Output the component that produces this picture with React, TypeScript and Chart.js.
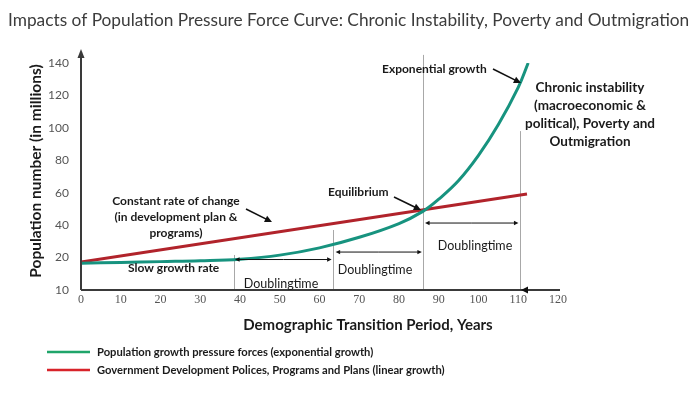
import React, { useEffect, useRef } from 'react';
import { Chart, registerables } from 'chart.js';
Chart.register(...registerables);

const titleText = 'Impacts of Population Pressure Force Curve: Chronic Instability, Poverty and Outmigration';
const xAxisTitle = 'Demographic Transition Period, Years';
const yAxisTitle = 'Population number (in millions)';
const xTickValues = [0, 10, 20, 30, 40, 50, 60, 70, 80, 90, 100, 110, 120];
const yTickValues = [0, 20, 40, 60, 80, 100, 120, 140];
const yTickLabels = ['10', '20', '40', '60', '80', '100', '120', '140'];

// Population growth pressure forces (exponential growth)
const greenX = [0, 10, 20, 30, 40, 50, 60, 70, 80, 86, 90, 95, 100, 105, 110, 112.5];
const greenY = [16.5, 17, 17.5, 18, 19, 21.5, 26, 32.5, 41, 48.5, 56, 67.5, 83, 102, 125, 140];
// Government Development Polices, Programs and Plans (linear growth)
const redX = [0, 112.2];
const redY = [17.3, 59.2];

// doubling-time markers
const markerX = [38.5, 63.5, 86, 110.5];
const markerTop = [21.6, 37, 145, 98];
const doublingStart = [38.5, 63.8, 86.3];
const doublingEnd = [63.3, 86, 110.3];
const doublingLevel = [18.8, 23.4, 41.3];
const doublingLabel = ['Doublingtime', 'Doublingtime', 'Doublingtime'];

const legendLabels = [
  'Population growth pressure forces (exponential growth)',
  'Government Development Polices, Programs and Plans (linear growth)',
];
const chronicLines = ['Chronic instability', '(macroeconomic &', 'political), Poverty and', 'Outmigration'];
const constantLines = ['Constant rate of change', '(in development plan &', 'programs)'];

const GREEN = '#17937f';
const RED = '#b1232b';
const LEG_GREEN = '#1fa56a';
const LEG_RED = '#d8232a';
const SANS = 'Lato, "Open Sans", sans-serif';

function arrow(ctx: CanvasRenderingContext2D, x1: number, y1: number, x2: number, y2: number, head: number, width: number) {
  const ang = Math.atan2(y2 - y1, x2 - x1);
  ctx.beginPath();
  ctx.lineWidth = width;
  ctx.moveTo(x1, y1);
  ctx.lineTo(x2 - Math.cos(ang) * head * 0.6, y2 - Math.sin(ang) * head * 0.6);
  ctx.stroke();
  ctx.beginPath();
  ctx.moveTo(x2, y2);
  ctx.lineTo(x2 - head * Math.cos(ang - 0.45), y2 - head * Math.sin(ang - 0.45));
  ctx.lineTo(x2 - head * Math.cos(ang + 0.45), y2 - head * Math.sin(ang + 0.45));
  ctx.closePath();
  ctx.fill();
}

const underlay = {
  id: 'underlay',
  beforeDatasetsDraw(chart: any) {
    const { ctx, scales } = chart;
    const xs = scales.x, ys = scales.y;
    ctx.save();
    ctx.strokeStyle = '#a8a8a8';
    ctx.lineWidth = 1;
    markerX.forEach((mx, i) => {
      const px = Math.round(xs.getPixelForValue(mx)) + 0.5;
      ctx.beginPath();
      ctx.moveTo(px, ys.getPixelForValue(markerTop[i]));
      ctx.lineTo(px, ys.getPixelForValue(0));
      ctx.stroke();
    });
    ctx.restore();
  },
  afterDatasetsDraw(chart: any) {
    const { ctx, scales, chartArea } = chart;
    const xs = scales.x, ys = scales.y;
    ctx.save();
    // axes
    ctx.strokeStyle = '#3a3a3a';
    ctx.fillStyle = '#3a3a3a';
    ctx.lineWidth = 2;
    ctx.beginPath();
    ctx.moveTo(chartArea.left, chartArea.bottom);
    ctx.lineTo(chartArea.right + 2, chartArea.bottom);
    ctx.stroke();
    ctx.beginPath();
    ctx.moveTo(chartArea.left, chartArea.bottom);
    ctx.lineTo(chartArea.left, 56);
    ctx.stroke();
    ctx.beginPath();
    ctx.moveTo(chartArea.left, 49);
    ctx.lineTo(chartArea.left - 3.5, 58);
    ctx.lineTo(chartArea.left + 3.5, 58);
    ctx.closePath();
    ctx.fill();
    ctx.fillStyle = '#111';
    ctx.beginPath();
    ctx.moveTo(521, chartArea.bottom);
    ctx.lineTo(528, chartArea.bottom - 3.5);
    ctx.lineTo(528, chartArea.bottom + 3.5);
    ctx.closePath();
    ctx.fill();

    // doubling arrows
    ctx.strokeStyle = '#111';
    ctx.fillStyle = '#111';
    doublingStart.forEach((s, i) => {
      const y = ys.getPixelForValue(doublingLevel[i]);
      const a = xs.getPixelForValue(s);
      const b = xs.getPixelForValue(doublingEnd[i]);
      const m = (a + b) / 2;
      arrow(ctx, m, y, a + 1, y, 5, 1);
      arrow(ctx, m, y, b - 1, y, 5, 1);
    });

    // annotation arrows
    arrow(ctx, 493, 69, 521, 83, 8, 1.6);
    arrow(ctx, 394, 197, 421, 210, 8, 1.6);
    arrow(ctx, 246, 209, 272, 222, 8, 1.6);

    // texts
    ctx.fillStyle = '#1a1a1a';
    ctx.textBaseline = 'middle';
    ctx.textAlign = 'left';
    ctx.font = `bold 12px ${SANS}`;
    ctx.fillText('Exponential growth', 382, 69);
    ctx.fillText('Equilibrium', 328, 192);
    ctx.fillText('Slow growth rate', 128, 268);
    ctx.textAlign = 'center';
    ctx.font = `bold 13.5px ${SANS}`;
    chronicLines.forEach((t, i) => ctx.fillText(t, 590, 88 + i * 18));
    ctx.font = `bold 12px ${SANS}`;
    constantLines.forEach((t, i) => ctx.fillText(t, 176, 201 + i * 16));
    ctx.font = `12.5px ${SANS}`;
    const dlPos = [[281, 284], [375, 270], [475, 246]];
    doublingLabel.forEach((t, i) => ctx.fillText(t, dlPos[i][0], dlPos[i][1]));

    // axis titles
    ctx.font = `bold 15px ${SANS}`;
    ctx.fillText(xAxisTitle, 368, 325);
    ctx.save();
    ctx.translate(36, 171);
    ctx.rotate(-Math.PI / 2);
    ctx.font = `bold 15.5px ${SANS}`;
    ctx.fillText(yAxisTitle, 0, 0);
    ctx.restore();

    // title
    ctx.textAlign = 'left';
    ctx.fillStyle = '#3c3c3c';
    ctx.font = `17.3px ${SANS}`;
    ctx.fillText(titleText, 8, 20);

    // legend
    const legColors = [LEG_GREEN, LEG_RED];
    const legY = [352, 370];
    legendLabels.forEach((t, i) => {
      ctx.strokeStyle = legColors[i];
      ctx.lineWidth = 2.5;
      ctx.beginPath();
      ctx.moveTo(47, legY[i]);
      ctx.lineTo(90, legY[i]);
      ctx.stroke();
      ctx.fillStyle = '#1a1a1a';
      ctx.font = `bold 11.2px ${SANS}`;
      ctx.fillText(t, 97, legY[i]);
    });
    ctx.restore();
  },
};

export default function App() {
  const ref = useRef<HTMLCanvasElement>(null);
  useEffect(() => {
    document.body.style.margin = '0';
    const canvas = ref.current!;
    const chart = new Chart(canvas, {
      type: 'line',
      data: {
        datasets: [
          {
            label: legendLabels[0],
            data: greenX.map((x, i) => ({ x, y: greenY[i] })),
            borderColor: GREEN,
            borderWidth: 3,
            pointRadius: 0,
            tension: 0.4,
            fill: false,
          },
          {
            label: legendLabels[1],
            data: redX.map((x, i) => ({ x, y: redY[i] })),
            borderColor: RED,
            borderWidth: 3,
            pointRadius: 0,
            fill: false,
          },
        ],
      },
      options: {
        animation: false,
        responsive: false,
        devicePixelRatio: 1,
        layout: { padding: { left: 0, top: 63, right: 133, bottom: 0 } },
        plugins: { legend: { display: false }, tooltip: { enabled: false }, title: { display: false } },
        scales: {
          x: {
            type: 'linear',
            min: 0,
            max: 120,
            afterBuildTicks: (s: any) => { s.ticks = xTickValues.map((v) => ({ value: v })); },
            afterFit: (s: any) => { s.height = 108; },
            grid: { display: false, drawTicks: false },
            border: { display: false },
            ticks: {
              padding: 3,
              color: '#555',
              font: { family: '"Liberation Serif", serif', size: 12 },
              maxRotation: 0,
              autoSkip: false,
            },
          },
          y: {
            type: 'linear',
            min: 0,
            max: 140,
            afterBuildTicks: (s: any) => { s.ticks = yTickValues.map((v) => ({ value: v })); },
            afterFit: (s: any) => { s.width = 81; },
            grid: { display: false, drawTicks: false },
            border: { display: false },
            ticks: {
              padding: 12,
              color: '#555',
              font: { family: SANS, size: 12 },
              autoSkip: false,
              callback: (v: any) => yTickLabels[yTickValues.indexOf(Number(v))] ?? '',
            },
          },
        },
      },
      plugins: [underlay],
    });
    return () => chart.destroy();
  }, []);
  return (
    <div style={{ position: 'absolute', left: 0, top: 0, width: 691, height: 398, background: '#fff' }}>
      <canvas ref={ref} width={691} height={398} style={{ display: 'block' }} />
    </div>
  );
}
